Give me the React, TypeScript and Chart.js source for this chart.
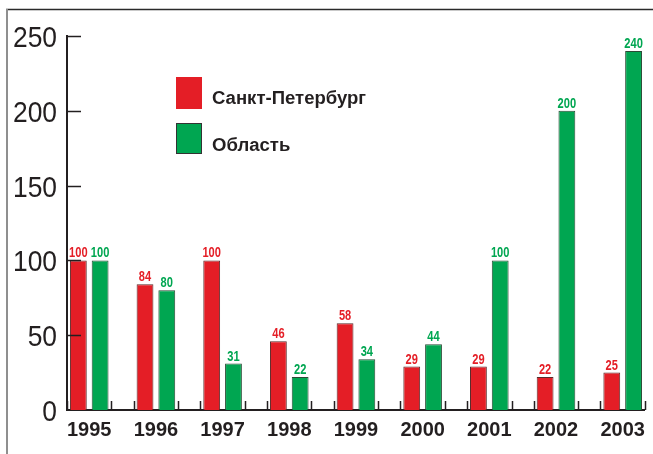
import { useEffect, useRef } from "react";
import { Chart, registerables } from "chart.js";

Chart.register(...registerables);

const years = ["1995", "1996", "1997", "1998", "1999", "2000", "2001", "2002", "2003"];
const spbValues = [100, 84, 100, 46, 58, 29, 29, 22, 25];
const oblValues = [100, 80, 31, 22, 34, 44, 100, 200, 240];
const yTicks = [0, 50, 100, 150, 200, 250];
const seriesNames = ["Санкт-Петербург", "Область"];

const RED = "#e41e26";
const GREEN = "#00a651";
const INK = "#231f20";

const decor = {
  id: "decor",
  beforeDraw(chart: any) {
    const { ctx, width, height } = chart;
    ctx.save();
    ctx.fillStyle = "#ffffff";
    ctx.fillRect(0, 0, width, height);
    ctx.strokeStyle = "#2a2a2a";
    ctx.lineWidth = 1.5;
    ctx.beginPath();
    ctx.moveTo(6, 9.5);
    ctx.lineTo(width, 9.5);
    ctx.stroke();
    ctx.strokeStyle = "#8f8f8f";
    ctx.lineWidth = 2;
    ctx.beginPath();
    ctx.moveTo(7, 9);
    ctx.lineTo(7, height);
    ctx.stroke();
    ctx.restore();
  },
  afterDraw(chart: any) {
    const { ctx, chartArea } = chart;
    const x = chart.scales.x;
    const y = chart.scales.y;
    ctx.save();
    ctx.strokeStyle = INK;
    ctx.lineWidth = 1.5;
    // inward y ticks + labels
    yTicks.forEach((v) => {
      const py = Math.round(y.getPixelForValue(v)) + 0.5;
      if (v !== 0) {
        ctx.beginPath();
        ctx.moveTo(chartArea.left, py);
        ctx.lineTo(chartArea.left + 14, py);
        ctx.stroke();
      }
      ctx.save();
      ctx.translate(57, py + 2);
      ctx.scale(0.88, 1);
      ctx.font = '30px "Liberation Sans", Arial, sans-serif';
      ctx.fillStyle = INK;
      ctx.textAlign = "right";
      ctx.textBaseline = "middle";
      ctx.fillText(String(v), 0, 0);
      ctx.restore();
    });
    // inward x ticks around each group
    years.forEach((_, i) => {
      [i - 1 / 3, i + 1 / 3].forEach((v) => {
        const px = Math.round(x.getPixelForValue(v)) + 0.5;
        ctx.beginPath();
        ctx.moveTo(px, chartArea.bottom);
        ctx.lineTo(px, chartArea.bottom - 9);
        ctx.stroke();
      });
    });
    ctx.restore();

    // value labels
    chart.data.datasets.forEach((ds: any, di: number) => {
      const meta = chart.getDatasetMeta(di);
      meta.data.forEach((bar: any, j: number) => {
        ctx.save();
        ctx.translate(bar.x, bar.y - 3);
        ctx.scale(0.74, 1);
        ctx.font = 'bold 15px "Liberation Sans", Arial, sans-serif';
        ctx.fillStyle = ds.backgroundColor;
        ctx.textAlign = "center";
        ctx.textBaseline = "alphabetic";
        ctx.fillText(String(ds.data[j].y), 0, 0);
        ctx.restore();
      });
    });

    // legend
    const boxes = [
      { top: 77, h: 32, base: 104 },
      { top: 123, h: 31, base: 151 },
    ];
    chart.data.datasets.forEach((ds: any, di: number) => {
      const b = boxes[di];
      ctx.save();
      ctx.fillStyle = ds.backgroundColor;
      ctx.fillRect(176, b.top, 26, b.h);
      if (di === 1) {
        ctx.strokeStyle = "#333";
        ctx.lineWidth = 1;
        ctx.strokeRect(176.5, b.top + 0.5, 25, b.h - 1);
      }
      ctx.translate(212, b.base);
      ctx.scale(1.03, 1);
      ctx.font = 'bold 18px "Liberation Sans", Arial, sans-serif';
      ctx.fillStyle = INK;
      ctx.textAlign = "left";
      ctx.textBaseline = "alphabetic";
      ctx.fillText(ds.label, 0, 0);
      ctx.restore();
    });
  },
};

export default function App() {
  const ref = useRef<HTMLCanvasElement | null>(null);

  useEffect(() => {
    if (!ref.current) return;
    const chart = new Chart(ref.current, {
      type: "bar",
      data: {
        datasets: [
          {
            label: seriesNames[0],
            data: spbValues.map((v, i) => ({ x: i, y: v })),
            backgroundColor: RED,
            borderColor: "#5a2a2a",
            borderWidth: 1,
            categoryPercentage: 0.653,
            barPercentage: 0.773,
          },
          {
            label: seriesNames[1],
            data: oblValues.map((v, i) => ({ x: i, y: v })),
            backgroundColor: GREEN,
            borderColor: "#2a4a35",
            borderWidth: 1,
            categoryPercentage: 0.653,
            barPercentage: 0.773,
          },
        ],
      },
      options: {
        animation: false,
        responsive: false,
        maintainAspectRatio: false,
        layout: { padding: { top: 36, right: 2, left: 0, bottom: 0 } },
        plugins: {
          legend: { display: false },
          tooltip: { enabled: false },
        },
        scales: {
          x: {
            type: "linear",
            min: -1 / 3,
            max: years.length - 1 + 1 / 3,
            offset: false,
            grid: { display: false, drawTicks: false, offset: false },
            border: { display: true, color: INK, width: 2 },
            afterBuildTicks: (scale: any) => {
              scale.ticks = years.map((_, i) => ({ value: i }));
            },
            afterFit: (scale: any) => {
              scale.height = 44;
            },
            ticks: {
              autoSkip: false,
              maxRotation: 0,
              padding: 8,
              color: INK,
              font: { family: '"Liberation Sans", Arial, sans-serif', size: 20, weight: "bold" },
              callback: (v: any) => years[v as number] ?? "",
            },
          },
          y: {
            min: 0,
            max: 250,
            afterBuildTicks: (scale: any) => {
              scale.ticks = yTicks.map((v) => ({ value: v }));
            },
            afterFit: (scale: any) => {
              scale.width = 67;
            },
            grid: { display: false, drawTicks: false },
            border: { display: true, color: INK, width: 2 },
            ticks: { display: false },
          },
        },
      },
      plugins: [decor],
    });
    return () => chart.destroy();
  }, []);

  return (
    <div style={{ position: "fixed", left: 0, top: 0, width: 653, height: 454, background: "#fff" }}>
      <canvas ref={ref} width={653} height={454} style={{ width: 653, height: 454, display: "block" }} />
    </div>
  );
}
